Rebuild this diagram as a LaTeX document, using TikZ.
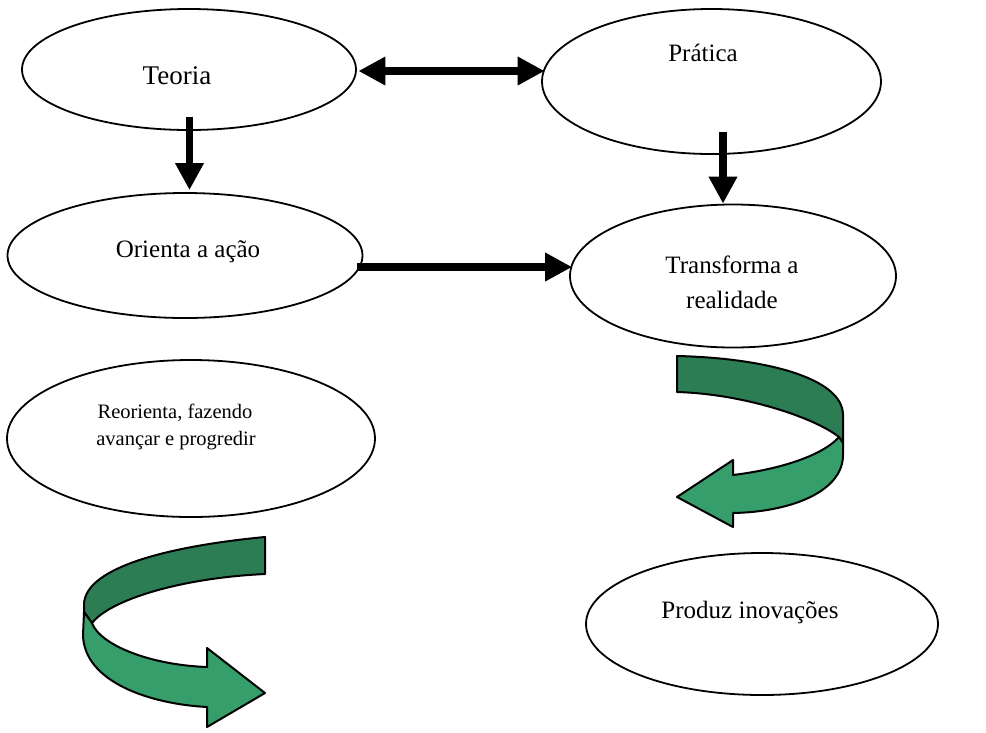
\documentclass[tikz,border=0pt]{standalone}
\usepackage{fontspec}
\setmainfont{Liberation Serif}
\usetikzlibrary{arrows.meta,shapes.geometric}
\definecolor{gdark}{RGB}{44,125,84}
\definecolor{glight}{RGB}{53,158,107}
\begin{document}
\begin{tikzpicture}[x=1pt,y=-1pt,
  oval/.style={draw, ellipse, line width=1.8pt, inner sep=0pt},
  lbl/.style={anchor=base, inner sep=0pt, font=\fontsize{25}{35}\selectfont},
  slbl/.style={anchor=base, inner sep=0pt, font=\fontsize{20.5}{27}\selectfont},
  fat/.style={line width=7.5pt, -{Triangle[length=27pt,width=27pt]}},
  fatboth/.style={line width=7.5pt, {Triangle[length=27pt,width=27pt]}-{Triangle[length=27pt,width=27pt]}},
  ribbon/.style={draw=black, line width=2pt, line join=round}]
\useasboundingbox (0,0) rectangle (986,732);
% ellipses
\node[oval, minimum width=334pt, minimum height=121pt] (teoria) at (189,69.5) {};
\node[oval, minimum width=339pt, minimum height=145pt] (pratica) at (711.5,81.5) {};
\node[oval, minimum width=355pt, minimum height=125pt] (orienta) at (185,255.5) {};
\node[oval, minimum width=326pt, minimum height=143pt] (transforma) at (733,276) {};
\node[oval, minimum width=368pt, minimum height=157pt] (reorienta) at (191,438.5) {};
\node[oval, minimum width=352pt, minimum height=142pt] (produz) at (762,624) {};
% texts
\node[lbl, font=\fontsize{27}{35}\selectfont] (tteoria) at (177,84) {Teoria};
\node[lbl] (tpratica) at (703,61) {Prática};
\node[lbl] (torienta) at (188,257) {Orienta a ação};
\node[lbl] (ttransf1) at (732,273) {Transforma a};
\node[lbl] (ttransf2) at (732,308) {realidade};
\node[slbl] (treor1) at (175,418) {Reorienta, fazendo};
\node[slbl] (treor2) at (176,445) {avançar e progredir};
\node[lbl] (tproduz) at (750,618) {Produz inovações};
% straight arrows
\draw[fatboth] ([shift={(1.5,1.5)}]teoria.east) -- ([shift={(3.5,-10.5)}]pratica.west);
\draw[fat] ([shift={(0.5,-14)}]teoria.south) -- ([shift={(4.5,-2)}]orienta.north);
\draw[fat] ([shift={(11.5,-23)}]pratica.south) -- ([shift={(-10,0)}]transforma.north);
\draw[fat] ([shift={(-6,11.5)}]orienta.east) -- ([shift={(3,-9)}]transforma.west);
% right curved arrow
\fill[gdark, ribbon] (677,356) .. controls (765,358) and (843,378) .. (843,415)
  -- (843,443) -- (839,437) .. controls (815,418) and (745,394) .. (677,392) -- cycle;
\fill[glight, ribbon] (839,437) -- (843,443) -- (843,455) .. controls (843,492) and (790,512) .. (733,513)
  -- (733,527) -- (677,497) -- (733,460) -- (733,475)
  .. controls (790,468) and (826,452) .. (839,437) -- cycle;
% left curved arrow
\fill[gdark, ribbon] (265,537) .. controls (180,545) and (84,565) .. (84,605)
  -- (84,612) -- (92,623) .. controls (110,600) and (180,578) .. (265,574) -- cycle;
\fill[glight, ribbon] (84,612) -- (83,635) .. controls (84,682) and (150,704) .. (207,707)
  -- (207,727) -- (265,693) -- (207,648) -- (207,667)
  .. controls (150,665) and (100,645) .. (92,623) -- cycle;
\end{tikzpicture}
\end{document}
